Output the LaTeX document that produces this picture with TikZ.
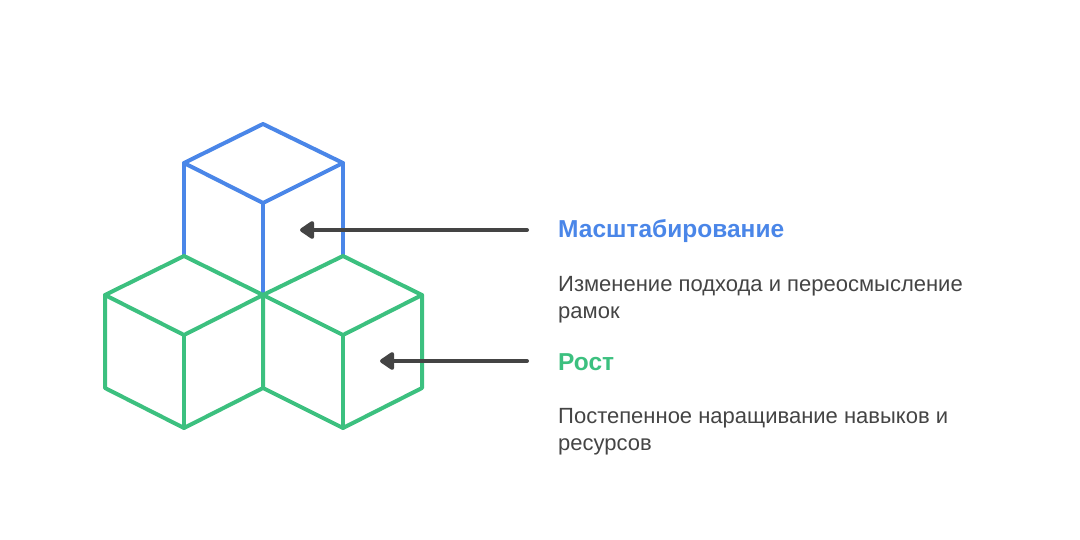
\documentclass[tikz,border=0pt]{standalone}
\usepackage{fontspec}
\setmainfont{Liberation Sans}
\usetikzlibrary{arrows.meta}
\definecolor{cblue}{HTML}{4A86E8}
\definecolor{cgreen}{HTML}{3CC07F}
\definecolor{cdark}{HTML}{444444}
\tikzset{
  bl/.style={draw=cblue,line width=4pt,line join=round,line cap=round},
  gr/.style={draw=cgreen,line width=4pt,line join=round,line cap=round},
  arr/.style={draw=cdark,line width=4pt,line cap=round,-{Triangle[length=16pt,width=20pt,round]}},
  title/.style={anchor=west,font=\fontsize{24.5}{28}\selectfont\bfseries},
  desc/.style={anchor=north west,align=left,text=cdark,font=\fontsize{22}{27}\selectfont,inner sep=0pt}
}
\begin{document}
\begin{tikzpicture}[x=1pt,y=-1pt]
\useasboundingbox (0,0) rectangle (1080,540);
% blue cube
\draw[bl] (263,124) -- (343,163) -- (263,203) -- (184,163) -- cycle;
\draw[bl] (184,163) -- (184,256);
\draw[bl] (343,163) -- (343,256);
\draw[bl] (263,203) -- (263,296);
% left green cube
\draw[gr] (184,256) -- (263,295) -- (184,335) -- (105,295) -- cycle;
\draw[gr] (105,295) -- (105,388) -- (184,428) -- (263,388) -- (263,295);
\draw[gr] (184,335) -- (184,428);
% right green cube
\draw[gr] (343,256) -- (422,295) -- (343,335) -- (263,295) -- cycle;
\draw[gr] (263,388) -- (343,428) -- (422,388) -- (422,295);
\draw[gr] (343,335) -- (343,428);
% arrows
\coordinate (a1s) at (527,230); \coordinate (a1e) at (300,230);
\coordinate (a2s) at (527,361); \coordinate (a2e) at (380,361);
\draw[arr] (a1s) -- (a1e);
\draw[arr] (a2s) -- (a2e);
% texts
\node[title,text=cblue,inner sep=0pt] (t1) at (558,231.5) {Масштабирование};
\node[desc] (d1) at (558,276) {Изменение подхода и переосмысление\\рамок};
\node[title,text=cgreen,inner sep=0pt] (t2) at (558,362) {Рост};
\node[desc] (d2) at (558,408) {Постепенное наращивание навыков и\\ресурсов};
\end{tikzpicture}
\end{document}
